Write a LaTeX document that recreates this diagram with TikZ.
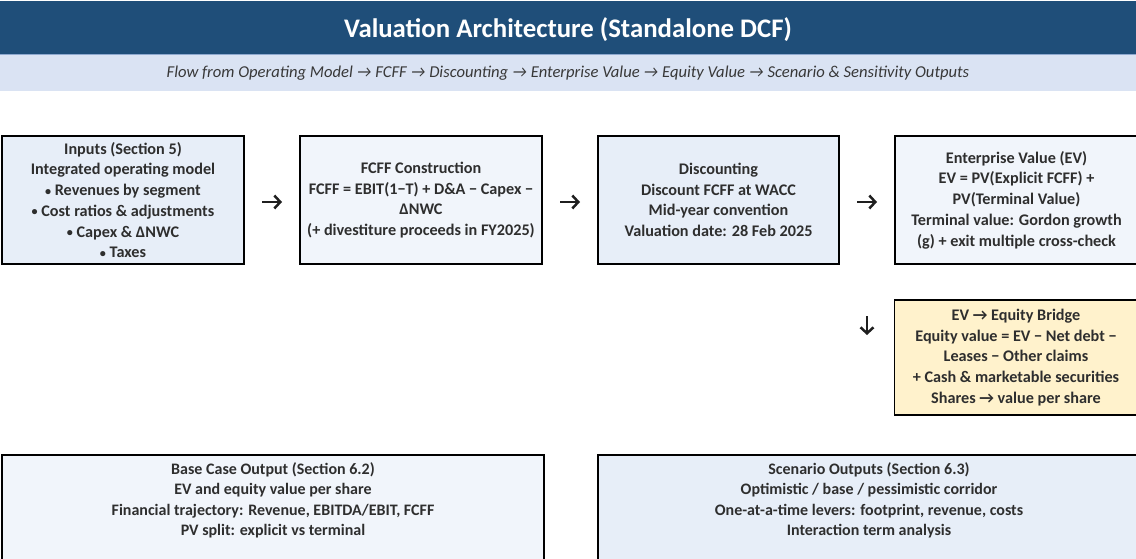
\documentclass[tikz,border=0pt]{standalone}
\usepackage{fontspec}
\setmainfont{Carlito}
\usetikzlibrary{calc,arrows.meta,shadows}
\definecolor{titleblue}{HTML}{1F4E79}
\definecolor{subband}{HTML}{DAE3F3}
\definecolor{subline}{HTML}{8EA9CF}
\definecolor{fillA}{HTML}{E7EEF8}
\definecolor{fillB}{HTML}{F1F5FB}
\definecolor{fillY}{HTML}{FFF2CC}
\definecolor{txt}{HTML}{2E2E2E}
\definecolor{subtxt}{HTML}{383838}
\newcommand{\bul}{\raisebox{0.5pt}{\scalebox{0.75}{•}}}
\tikzset{
  boxbase/.style={draw=black, line width=1.3pt, rectangle, align=center, text=txt,
    inner sep=0pt, font=\fontsize{16.2}{20.7}\selectfont\bfseries,
    drop shadow={shadow xshift=1.2pt, shadow yshift=-1.4pt, fill=black!60, opacity=0.8}},
  boxA/.style={boxbase, fill=fillA},
  boxB/.style={boxbase, fill=fillB},
  boxY/.style={boxbase, fill=fillY},
  boxtext/.style={align=center, text=txt, inner sep=0pt, font=\fontsize{16}{20.4}\selectfont\bfseries},
  flowarrow/.style={line width=2.5pt, draw=black!88, -{Straight Barb[length=6pt,width=13pt,line width=2.5pt]}}
}
\begin{document}
\begin{tikzpicture}[x=1pt,y=-1pt]
\useasboundingbox (0,0) rectangle (1136,559);
% header bands
\fill[titleblue] (0,1.5) rectangle (1136,54);
\fill[subband] (0,54) rectangle (1136,91);
\draw[subline, line width=1.2pt] (0,54.5) -- (1136,54.5);
\node[text=white, font=\fontsize{26.8}{30}\selectfont\bfseries] (title) at (568,30) {Valuation Architecture (Standalone DCF)};
\node[text=subtxt, font=\fontsize{16.6}{19}\selectfont\itshape] (subtitle) at (568,73.5)
  {Flow from Operating Model → FCFF → Discounting → Enterprise Value → Equity Value → Scenario \& Sensitivity Outputs};
% top row
\node[boxA, minimum width=242pt, minimum height=128pt] (inputs) at (123,200)
  {Inputs (Section 5)\\Integrated operating model\\\bul{} Revenues by segment\\\bul{} Cost ratios \& adjustments\\\bul{} Capex \& ΔNWC\\\bul{} Taxes};
\node[boxB, minimum width=242pt, minimum height=128pt] (fcff) at (421,200)
  {FCFF Construction\\FCFF = EBIT(1−T) + D\&A − Capex −\\ΔNWC\\(+ divestiture proceeds in FY2025)};
\node[boxA, minimum width=241pt, minimum height=128pt] (disc) at (718.5,200)
  {Discounting\\Discount FCFF at WACC\\Mid-year convention\\Valuation date: 28 Feb 2025};
\node[boxB, minimum width=243pt, minimum height=128pt] (ev) at (1016.5,200)
  {Enterprise Value (EV)\\EV = PV(Explicit FCFF) +\\PV(Terminal Value)\\Terminal value: Gordon growth\\(g) + exit multiple cross-check};
% equity bridge
\node[boxY, minimum width=243pt, minimum height=115pt] (eq) at (1016,357.5)
  {EV → Equity Bridge\\Equity value = EV − Net debt −\\Leases − Other claims\\+ Cash \& marketable securities\\Shares → value per share};
% bottom row
\node[boxB, minimum width=542pt, minimum height=130pt] (base) at (273,520) {};
\node[boxtext] (basetext) at (273,500.5)
  {Base Case Output (Section 6.2)\\EV and equity value per share\\Financial trajectory: Revenue, EBITDA/EBIT, FCFF\\PV split: explicit vs terminal};
\node[boxA, minimum width=542pt, minimum height=130pt] (scen) at (869,520) {};
\node[boxtext] (scentext) at (869,500.5)
  {Scenario Outputs (Section 6.3)\\Optimistic / base / pessimistic corridor\\One-at-a-time levers: footprint, revenue, costs\\Interaction term analysis};
% arrows
\coordinate (a1s) at ($(inputs.east)!0.5!(fcff.west)+(-10,2)$);
\coordinate (a1e) at ($(inputs.east)!0.5!(fcff.west)+(10,2)$);
\coordinate (a2s) at ($(fcff.east)!0.5!(disc.west)+(-10,2)$);
\coordinate (a2e) at ($(fcff.east)!0.5!(disc.west)+(10,2)$);
\coordinate (a3s) at ($(disc.east)!0.5!(ev.west)+(-10,2)$);
\coordinate (a3e) at ($(disc.east)!0.5!(ev.west)+(10,2)$);
\coordinate (a4s) at (867,316);
\coordinate (a4e) at (867,335);
\draw[flowarrow] (a1s) -- (a1e);
\draw[flowarrow] (a2s) -- (a2e);
\draw[flowarrow] (a3s) -- (a3e);
\draw[flowarrow] (a4s) -- (a4e);
\end{tikzpicture}
\end{document}
